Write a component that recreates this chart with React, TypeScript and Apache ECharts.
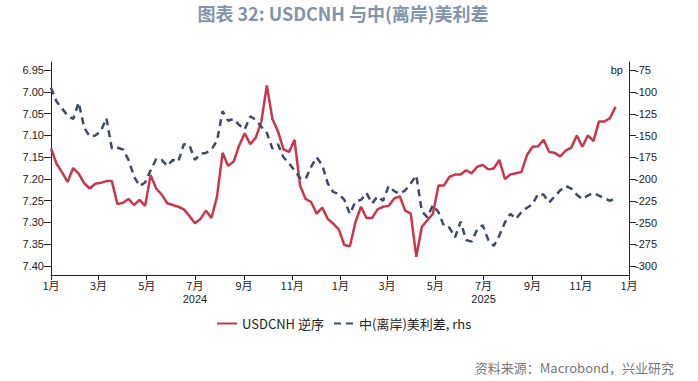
import React, { useEffect, useRef } from 'react';
import * as echarts from 'echarts';

const TITLE = '图表 32: USDCNH 与中(离岸)美利差';
const SOURCE = '资料来源：Macrobond，兴业研究';
const SERIES_NAMES = ['USDCNH 逆序', '中(离岸)美利差, rhs'];
const RIGHT_UNIT = 'bp';

// weekly observations starting 2024-01-01
const START = '2024-01-01';
const STEP_DAYS = 7;

const usdcnh = [
  7.13, 7.165, 7.185, 7.207, 7.175, 7.188, 7.21, 7.222, 7.211, 7.209,
  7.205, 7.205, 7.258, 7.255, 7.246, 7.26, 7.248, 7.262, 7.191, 7.222,
  7.236, 7.256, 7.26, 7.264, 7.27, 7.285, 7.302, 7.292, 7.273, 7.29,
  7.24, 7.14, 7.17, 7.16, 7.123, 7.095, 7.12, 7.105, 7.068, 6.985,
  7.062, 7.09, 7.132, 7.138, 7.11, 7.215, 7.246, 7.253, 7.28, 7.266,
  7.292, 7.303, 7.316, 7.352, 7.355, 7.3, 7.264, 7.29, 7.29, 7.27,
  7.264, 7.262, 7.245, 7.24, 7.273, 7.28, 7.379, 7.31, 7.295, 7.28,
  7.215, 7.215, 7.195, 7.19, 7.19, 7.18, 7.187, 7.172, 7.168, 7.178,
  7.176, 7.156, 7.2, 7.19, 7.187, 7.184, 7.145, 7.126, 7.125, 7.11,
  7.138, 7.14, 7.148, 7.135, 7.128, 7.1, 7.126, 7.1, 7.113, 7.068,
  7.068, 7.06, 7.034,
];

const spread = [
  -95, -111, -119, -127, -131, -112, -141, -151, -150, -145,
  -130, -165, -164, -166, -178, -197, -208, -204, -190, -177,
  -178, -185, -178, -180, -160, -161, -178, -171, -170, -166,
  -156, -122, -133, -131, -138, -143, -128, -132, -140, -147,
  -165, -160, -175, -182, -190, -199, -200, -186, -175, -184,
  -205, -215, -217, -224, -240, -226, -224, -216, -228, -220,
  -225, -208, -214, -217, -213, -205, -196, -237, -244, -230,
  -238, -254, -256, -267, -249, -270, -272, -258, -253, -270,
  -277, -265, -250, -240, -246, -238, -233, -229, -217, -218,
  -227, -220, -213, -208, -211, -218, -223, -219, -216, -219,
  -222, -225, -222,
];

const leftTicks = [6.95, 7.0, 7.05, 7.1, 7.15, 7.2, 7.25, 7.3, 7.35, 7.4];
const rightTicks = [-75, -100, -125, -150, -175, -200, -225, -250, -275, -300];
const monthTicks = [
  '2024-01-01', '2024-03-01', '2024-05-01', '2024-07-01', '2024-09-01', '2024-11-01',
  '2025-01-01', '2025-03-01', '2025-05-01', '2025-07-01', '2025-09-01', '2025-11-01',
  '2026-01-01',
];
const yearTicks = ['2024-07-01', '2025-07-01'];

const RED = '#c8374c';
const NAVY = '#3d4a69';
const NUM_FONT = '"Liberation Sans", Arial, sans-serif';
const CJK_FONT = '"Noto Sans CJK SC", sans-serif';

const DAY_MS = 86400000;
const T0 = Date.parse(START);
const toDay = (s: string) => Math.round((Date.parse(s) - T0) / DAY_MS);

export default function App() {
  const ref = useRef<HTMLDivElement>(null);

  useEffect(() => {
    if (!ref.current) return;
    const chart = echarts.init(ref.current, undefined, { renderer: 'svg' });
    const days = usdcnh.map((_, i) => i * STEP_DAYS);
    const tickDays = monthTicks.map(toDay);
    const yearDays = yearTicks.map(toDay);
    const monthLabel = (v: number) => {
      const idx = tickDays.indexOf(Math.round(v));
      if (idx < 0) return '';
      return `${Number(monthTicks[idx].split('-')[1])}月`;
    };
    const yearLabel = (v: number) => {
      const idx = yearDays.indexOf(Math.round(v));
      if (idx < 0) return '';
      return yearTicks[idx].split('-')[0];
    };
    const xMin = tickDays[0];
    const xMax = tickDays[tickDays.length - 1];

    const option: any = {
      animation: false,
      backgroundColor: '#ffffff',
      grid: { left: 51, right: 69, top: 62, bottom: 106, containLabel: false, outerBoundsMode: 'none' },
      legend: {
        left: 211,
        top: 312,
        itemWidth: 20,
        itemHeight: 10,
        itemGap: 9,
        itemStyle: { opacity: 0 },
        textStyle: { fontFamily: CJK_FONT, fontSize: 13, color: '#222' },
        data: SERIES_NAMES,
      },
      xAxis: [
        {
          type: 'value',
          min: xMin,
          max: xMax,
          axisLine: { show: true, onZero: false, lineStyle: { color: '#222', width: 1 } },
          axisTick: { show: true, length: 5, customValues: tickDays, lineStyle: { color: '#222' } },
          axisLabel: {
            customValues: tickDays,
            margin: 4,
            fontFamily: CJK_FONT,
            fontSize: 11,
            color: '#222',
            formatter: (v: number) => monthLabel(v),
          },
          splitLine: { show: false },
        },
        {
          type: 'value',
          position: 'bottom',
          offset: 14,
          min: xMin,
          max: xMax,
          axisLine: { show: false, onZero: false },
          axisTick: { show: false },
          axisLabel: {
            customValues: yearDays,
            margin: 4,
            fontFamily: NUM_FONT,
            fontSize: 11,
            color: '#222',
            formatter: (v: number) => yearLabel(v),
          },
          splitLine: { show: false },
        },
      ],
      yAxis: [
        {
          type: 'value',
          position: 'left',
          inverse: true,
          min: 6.931,
          max: 7.421,
          axisLine: { show: true, onZero: false, lineStyle: { color: '#222', width: 1 } },
          axisTick: { show: true, length: 7, customValues: leftTicks, lineStyle: { color: '#222' } },
          axisLabel: {
            customValues: leftTicks,
            margin: 7,
            fontFamily: NUM_FONT,
            fontSize: 11,
            color: '#222',
            formatter: (v: number) => v.toFixed(2),
          },
          splitLine: { show: false },
        },
        {
          type: 'value',
          position: 'right',
          min: -310.3,
          max: -65.5,
          axisLine: { show: true, onZero: false, lineStyle: { color: '#222', width: 1 } },
          axisTick: { show: true, length: 7, customValues: rightTicks, lineStyle: { color: '#222' } },
          axisLabel: {
            customValues: rightTicks,
            margin: 6,
            fontFamily: NUM_FONT,
            fontSize: 11,
            color: '#222',
            formatter: (v: number) => String(v),
          },
          splitLine: { show: false },
        },
      ],
      series: [
        {
          name: SERIES_NAMES[0],
          type: 'line',
          xAxisIndex: 0,
          yAxisIndex: 0,
          showSymbol: false,
          symbol: 'none',
          lineStyle: { color: RED, width: 2.5 },
          itemStyle: { color: RED },
          data: days.map((d, i) => [d, usdcnh[i]]),
        },
        {
          name: SERIES_NAMES[1],
          type: 'line',
          xAxisIndex: 0,
          yAxisIndex: 1,
          showSymbol: false,
          symbol: 'none',
          lineStyle: { color: NAVY, width: 2.5, type: [7, 5] },
          itemStyle: { color: NAVY },
          data: days.map((d, i) => [d, spread[i]]),
        },
      ],
      graphic: [
        {
          type: 'text',
          x: 343,
          y: 13,
          style: {
            text: TITLE,
            fill: '#8194aa',
            font: `bold 18px ${CJK_FONT}`,
            textAlign: 'center',
            textVerticalAlign: 'middle',
          },
        },
        {
          type: 'text',
          x: 623,
          y: 70,
          style: {
            text: RIGHT_UNIT,
            fill: '#222',
            font: `11px ${NUM_FONT}`,
            textAlign: 'right',
            textVerticalAlign: 'middle',
          },
        },
        {
          type: 'text',
          x: 674,
          y: 367,
          style: {
            text: SOURCE,
            fill: '#777',
            font: `13px ${CJK_FONT}`,
            textAlign: 'right',
            textVerticalAlign: 'middle',
          },
        },
      ],
    };
    chart.setOption(option);
    return () => chart.dispose();
  }, []);

  return <div ref={ref} style={{ position: 'fixed', left: 0, top: 0, width: 698, height: 381 }} />;
}
